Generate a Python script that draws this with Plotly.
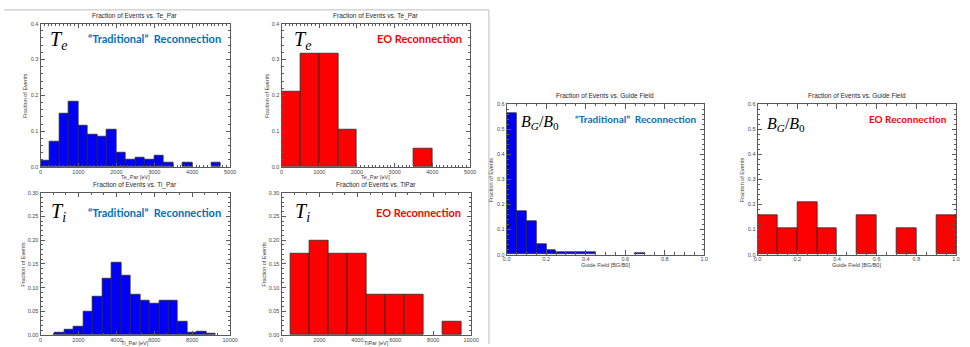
import plotly.graph_objects as go

W, H = 970, 347

# ---------------- data ----------------
te_trad_centers = [125, 375, 625, 875, 1125, 1375, 1625, 1875, 2125, 2375, 2625, 2875,
                   3125, 3375, 3625, 3875, 4125, 4375, 4625, 4875]
te_trad_frac = [0.019, 0.072, 0.149, 0.183, 0.117, 0.091, 0.085, 0.105, 0.039, 0.020, 0.026,
                0.020, 0.033, 0.013, 0.0, 0.013, 0.0, 0.0, 0.013, 0.0]

te_eo_centers = [250, 750, 1250, 1750, 2250, 2750, 3250, 3750, 4250, 4750]
te_eo_frac = [0.2105, 0.3158, 0.3158, 0.1053, 0.0, 0.0, 0.0, 0.0526, 0.0, 0.0]

ti_trad_centers = [1000, 1500, 2000, 2500, 3000, 3500, 4000, 4500, 5000, 5500, 6000, 6500,
                   7000, 7500, 8000, 8500, 9000]
ti_trad_frac = [0.0055, 0.011, 0.018, 0.050, 0.081, 0.119, 0.152, 0.126, 0.086, 0.073, 0.067,
                0.073, 0.073, 0.028, 0.005, 0.008, 0.003]

ti_eo_centers = [1000, 2000, 3000, 4000, 5000, 6000, 7000, 8000, 9000]
ti_eo_frac = [0.1714, 0.2000, 0.1714, 0.1714, 0.0857, 0.0857, 0.0857, 0.0, 0.0286]

bg_trad_centers = [0.025, 0.075, 0.125, 0.175, 0.225, 0.275, 0.325, 0.375, 0.425, 0.475,
                   0.525, 0.575, 0.625, 0.675, 0.725]
bg_trad_frac = [0.565, 0.1725, 0.133, 0.043, 0.017, 0.0105, 0.0105, 0.0105, 0.0105, 0.0,
                0.0, 0.0, 0.0, 0.005, 0.0]

bg_eo_centers = [0.05, 0.15, 0.25, 0.35, 0.45, 0.55, 0.65, 0.75, 0.85, 0.95]
bg_eo_frac = [0.1579, 0.1053, 0.2105, 0.1053, 0.0, 0.1579, 0.0, 0.1053, 0.0, 0.1579]

titles = ["Fraction of Events vs. Te_Par", "Fraction of Events vs. Te_Par",
          "Fraction of Events vs. Ti_Par", "Fraction of Events vs. TiPar",
          "Fraction of Events vs. Guide Field", "Fraction of Events vs. Guide Field"]
xtitles = ["Te_Par [eV]", "Te_Par [eV]", "Ti_Par [eV]", "TiPar [eV]",
           "Guide Field [BG/B0]", "Guide Field [BG/B0]"]
ytitle = "Fraction of Events"
labels_trad = "\u201cTraditional\u201d  Reconnection"
labels_eo = "EO Reconnection"

# ---------------- layout helpers ----------------
BLUE = "rgb(0,0,250)"
RED = "rgb(255,0,0)"
TXT_BLUE = "rgb(0,112,192)"
AX = "rgb(90,90,90)"
TICKFONT = dict(family="Liberation Sans", size=5.5, color="rgb(70,70,70)")

# panel pixel boxes: (x0, x1, y0, y1)
boxes = [(37, 229, 21, 167), (281, 472, 21, 167),
         (37, 229, 193, 338), (281, 473, 193, 338),
         (509, 709, 103, 256), (763, 964, 103, 256)]

panels = [
    dict(c=te_trad_centers, f=te_trad_frac, w=250, col=BLUE, xr=[0, 5000], xd=1000, xm=100,
         yr=[0, 0.4], yd=0.1, ym=0.02, xf="d", yf=".1f"),
    dict(c=te_eo_centers, f=te_eo_frac, w=500, col=RED, xr=[0, 5000], xd=1000, xm=100,
         yr=[0, 0.4], yd=0.1, ym=0.02, xf="d", yf=".1f"),
    dict(c=ti_trad_centers, f=ti_trad_frac, w=500, col=BLUE, xr=[0, 10000], xd=2000, xm=2000 / 3,
         yr=[0, 0.3], yd=0.05, ym=0.01, xf="d", yf=".2f"),
    dict(c=ti_eo_centers, f=ti_eo_frac, w=1000, col=RED, xr=[0, 10000], xd=2000, xm=2000 / 3,
         yr=[0, 0.3], yd=0.05, ym=0.01, xf="d", yf=".2f"),
    dict(c=bg_trad_centers, f=bg_trad_frac, w=0.05, col=BLUE, xr=[0, 1.0], xd=0.2, xm=0.05,
         yr=[0, 0.6], yd=0.1, ym=0.02, xf=".1f", yf=".1f"),
    dict(c=bg_eo_centers, f=bg_eo_frac, w=0.1, col=RED, xr=[0, 1.0], xd=0.2, xm=0.05,
         yr=[0, 0.6], yd=0.1, ym=0.02, xf=".1f", yf=".1f"),
]

fig = go.Figure()
layout = dict(width=W, height=H, margin=dict(l=0, r=0, t=0, b=0),
              paper_bgcolor="white", plot_bgcolor="white", showlegend=False,
              bargap=0)
annotations = []


def px(x):
    return x / W


def py(y):
    return 1 - y / H


for i, (p, b) in enumerate(zip(panels, boxes)):
    n = i + 1
    xa = "x" if n == 1 else f"x{n}"
    ya = "y" if n == 1 else f"y{n}"
    xs = [c for c, f in zip(p["c"], p["f"]) if f > 0]
    ys = [f for f in p["f"] if f > 0]
    fig.add_trace(go.Bar(x=xs, y=ys, width=p["w"], xaxis=xa, yaxis=ya,
                         marker=dict(color=p["col"], line=dict(color="rgb(40,40,40)", width=0.8))))
    x0, x1, y0, y1 = b
    common = dict(showgrid=False, zeroline=False, showline=True, linecolor=AX, linewidth=1,
                  mirror="allticks", ticks="inside", ticklen=4.5, tickwidth=0.8, tickcolor=AX,
                  tickfont=TICKFONT)
    layout["xaxis" if n == 1 else f"xaxis{n}"] = dict(
        common, domain=[px(x0), px(x1)], anchor=ya, range=p["xr"], tick0=0, dtick=p["xd"],
        tickformat=p["xf"], ticklabelstandoff=-1,
        minor=dict(ticks="inside", ticklen=2.2, tickwidth=0.6, tickcolor=AX, dtick=p["xm"], tick0=0))
    layout["yaxis" if n == 1 else f"yaxis{n}"] = dict(
        common, domain=[py(y1), py(y0)], anchor=xa, range=p["yr"], tick0=0, dtick=p["yd"],
        tickformat=p["yf"],
        minor=dict(ticks="inside", ticklen=2.2, tickwidth=0.6, tickcolor=AX, dtick=p["ym"], tick0=0))

# panel titles
title_y = [13, 13, 185, 185, 94, 94]
xtitle_y = [177, 177, 345.5, 345.5, 267, 267]
ytitle_x = [22, 267, 19, 263, 493, 748]
for i, b in enumerate(boxes):
    x0, x1, y0, y1 = b
    annotations.append(dict(x=px((x0 + x1) / 2), y=py(title_y[i]), xref="paper", yref="paper",
                            text=titles[i], showarrow=False, xanchor="center", yanchor="middle",
                            font=dict(family="Liberation Sans", size=6.5, color="rgb(40,40,40)")))
    annotations.append(dict(x=px((x0 + x1) / 2), y=py(xtitle_y[i]), xref="paper", yref="paper",
                            text=xtitles[i], showarrow=False, xanchor="center", yanchor="middle",
                            font=dict(family="Liberation Sans", size=5.5, color="rgb(60,60,60)")))
    annotations.append(dict(x=px(ytitle_x[i]), y=py((y0 + y1) / 2), xref="paper", yref="paper",
                            text=ytitle, showarrow=False, xanchor="center", yanchor="middle",
                            textangle=-90,
                            font=dict(family="Liberation Sans", size=5.5, color="rgb(60,60,60)")))

# overlaid labels
label_specs = [
    (152, 36, labels_trad, TXT_BLUE, 11), (421, 36, labels_eo, RED, 11),
    (152, 213, labels_trad, TXT_BLUE, 11), (420, 213, labels_eo, RED, 11),
    (639, 118, labels_trad, TXT_BLUE, 10), (915, 118, labels_eo, RED, 10),
]
for x, y, t, c, s in label_specs:
    annotations.append(dict(x=px(x), y=py(y), xref="paper", yref="paper", text=f"<b>{t}</b>",
                            showarrow=False, xanchor="center", yanchor="middle",
                            font=dict(family="Lato", size=s, color=c)))

sym_specs = [
    (55, 38, "<i>T</i><sub><i>e</i></sub>", 20), (302, 38, "<i>T</i><sub><i>e</i></sub>", 20),
    (55, 213, "<i>T</i><sub><i>i</i></sub>", 20), (302, 213, "<i>T</i><sub><i>i</i></sub>", 20),
    (543, 122, "<i>B</i><sub><i>G</i></sub>/<i>B</i><sub>0</sub>", 16),
    (792, 124, "<i>B</i><sub><i>G</i></sub>/<i>B</i><sub>0</sub>", 16),
]
for x, y, t, s in sym_specs:
    annotations.append(dict(x=px(x), y=py(y), xref="paper", yref="paper", text=t,
                            showarrow=False, xanchor="center", yanchor="middle",
                            font=dict(family="Liberation Serif", size=s, color="black")))

layout["annotations"] = annotations
layout["shapes"] = [
    dict(type="line", xref="paper", yref="paper", x0=0, x1=px(491), y0=py(7), y1=py(7),
         line=dict(color="rgb(190,190,190)", width=1)),
    dict(type="line", xref="paper", yref="paper", x0=px(491), x1=px(491), y0=py(7), y1=0,
         line=dict(color="rgb(190,190,190)", width=1)),
]
fig.update_layout(**layout)
fig.write_html("out.html")
